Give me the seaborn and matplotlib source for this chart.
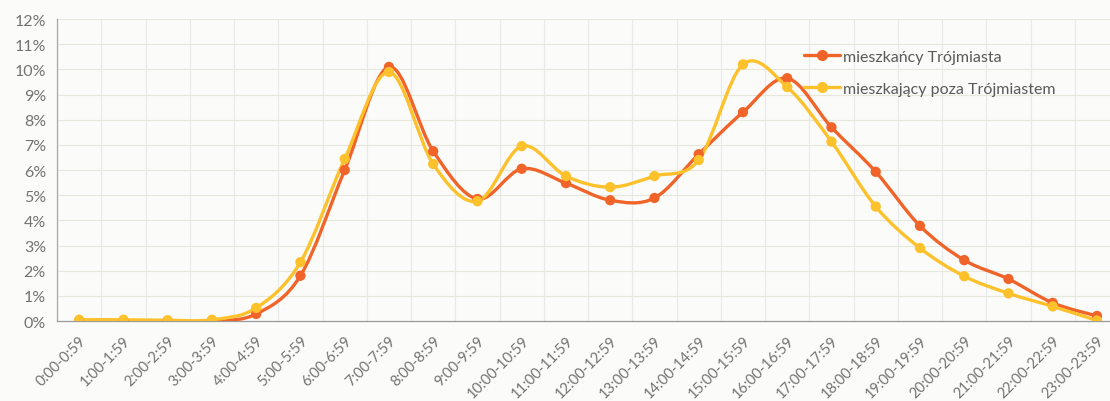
import numpy as np
import pandas as pd
import matplotlib
matplotlib.use('Agg')
import matplotlib.pyplot as plt
from matplotlib.path import Path
from matplotlib.patches import PathPatch
from matplotlib.lines import Line2D
import seaborn as sns

hours = ['0:00-0:59', '1:00-1:59', '2:00-2:59', '3:00-3:59', '4:00-4:59', '5:00-5:59',
         '6:00-6:59', '7:00-7:59', '8:00-8:59', '9:00-9:59', '10:00-10:59', '11:00-11:59',
         '12:00-12:59', '13:00-13:59', '14:00-14:59', '15:00-15:59', '16:00-16:59',
         '17:00-17:59', '18:00-18:59', '19:00-19:59', '20:00-20:59', '21:00-21:59',
         '22:00-22:59', '23:00-23:59']
mieszkancy = [0.0, 0.0, 0.0, 0.0, 0.28, 1.8, 6.0, 10.1, 6.75, 4.85, 6.05, 5.48,
              4.8, 4.89, 6.63, 8.3, 9.65, 7.7, 5.93, 3.78, 2.42, 1.67, 0.72, 0.2]
poza = [0.05, 0.05, 0.03, 0.05, 0.52, 2.34, 6.44, 9.9, 6.24, 4.76, 6.95, 5.76,
        5.32, 5.76, 6.4, 10.2, 9.3, 7.13, 4.55, 2.9, 1.78, 1.1, 0.58, 0.02]
series_names = ['mieszkańcy Trójmiasta', 'mieszkający poza Trójmiastem']
colors = ['#F0642A', '#FDC12C']

df = pd.DataFrame({'godzina': hours, 'x': np.arange(len(hours)),
                   series_names[0]: mieszkancy, series_names[1]: poza})
long = df.melt(id_vars=['godzina', 'x'], var_name='grupa', value_name='udzial')

sns.set_style('white')
plt.rcParams['font.family'] = ['Lato', 'DejaVu Sans']

fig = plt.figure(figsize=(11.1, 4.02), dpi=100, facecolor='#fbfbf9')
ax = fig.add_axes([0.0514, 0.199, 0.9568, 0.751])
ax.set_facecolor('#fbfbf9')


def smooth_path(xs, ys):
    # Excel-like smoothed line (Catmull-Rom converted to cubic Bezier)
    pts = np.column_stack([xs, ys]).astype(float)
    n = len(pts)
    verts = [pts[0]]
    codes = [Path.MOVETO]
    for i in range(n - 1):
        p0 = pts[i - 1] if i > 0 else pts[i]
        p1 = pts[i]
        p2 = pts[i + 1]
        p3 = pts[i + 2] if i + 2 < n else pts[i + 1]
        c1 = p1 + (p2 - p0) / 6.0
        c2 = p2 - (p3 - p1) / 6.0
        verts += [c1, c2, p2]
        codes += [Path.CURVE4] * 3
    return Path(verts, codes)


for name, col in zip(series_names, colors):
    sub = long[long['grupa'] == name]
    ax.add_patch(PathPatch(smooth_path(sub['x'], sub['udzial']), facecolor='none',
                           edgecolor=col, lw=2.4, zorder=3, capstyle='round', joinstyle='round'))

sns.scatterplot(data=long, x='x', y='udzial', hue='grupa', palette=colors,
                s=55, edgecolor='none', legend=False, ax=ax, zorder=4)

ax.set_xlim(-0.5, len(hours) - 0.5)
ax.set_ylim(0, 12)
ax.set_yticks(np.arange(0, 13, 1))
ax.set_yticklabels([f'{v}%' for v in range(13)])
ax.set_xticks(np.arange(len(hours)))
ax.set_xticklabels(hours, rotation=45, ha='right', rotation_mode='anchor')
ax.set_xticks(np.arange(-0.5, len(hours), 1), minor=True)
ax.tick_params(axis='x', which='major', length=0, pad=9, labelsize=10.5, labelcolor='#737373')
ax.tick_params(axis='x', which='minor', length=5, color='#9a9a9a', width=0.8)
ax.tick_params(axis='y', length=4, color='#9a9a9a', width=0.8, labelsize=11.5,
               labelcolor='#737373', pad=4)
ax.set_xlabel('')
ax.set_ylabel('')

ax.grid(True, axis='y', which='major', color='#e6e8dc', lw=0.8)
ax.grid(True, axis='x', which='minor', color='#e6eaea', lw=0.8)
ax.set_axisbelow(True)

for side in ['top', 'right']:
    ax.spines[side].set_visible(False)
ax.spines['left'].set_color('#a8a8a8')
ax.spines['bottom'].set_color('#9a9a9a')
ax.spines['left'].set_linewidth(0.9)
ax.spines['bottom'].set_linewidth(0.9)

handles = [Line2D([0], [0], color=c, lw=2.4, marker='o', markersize=7) for c in colors]
ax.legend(handles, series_names, loc='upper left', bbox_to_anchor=(0.697, 0.92),
          frameon=False, fontsize=11.5, labelcolor='#595959', handlelength=2.3,
          handletextpad=0.15, labelspacing=1.1, borderaxespad=0)

fig.savefig('out.png', dpi=100, facecolor=fig.get_facecolor())
